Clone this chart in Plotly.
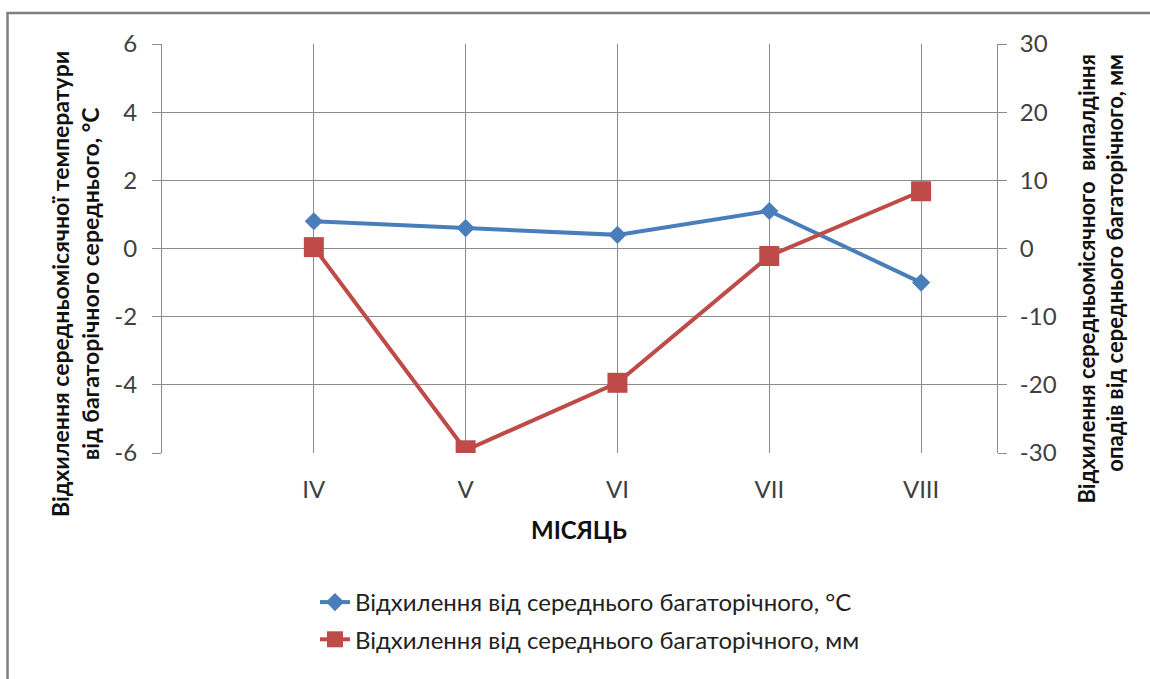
import plotly.graph_objects as go

# Months (April..August) and deviations from the long-term mean
months = ["IV", "V", "VI", "VII", "VIII"]
temp_dev = [0.8, 0.6, 0.4, 1.1, -1.0]          # °C
precip_dev = [0.2, -29.6, -19.7, -1.1, 8.4]    # mm

temp_ticks = [-6, -4, -2, 0, 2, 4, 6]
precip_ticks = [-30, -20, -10, 0, 10, 20, 30]

name_temp = "Відхилення від середнього багаторічного, °C"
name_precip = "Відхилення від середнього багаторічного, мм"
title_left = "Відхилення середньомісячної температури<br>від багаторічного середнього, °C"
title_right = "Відхилення середньомісячного  випалдіння<br>опадів від середнього багаторічного, мм"
title_x = "МІСЯЦЬ"

BLUE = "#4A7EBB"
RED = "#BE4B48"
GRID = "#8c8c8c"
FONT = "Lato, 'Open Sans', sans-serif"

xpos = list(range(len(months)))

fig = go.Figure()
fig.add_trace(go.Scatter(
    x=xpos, y=temp_dev, name=name_temp, mode="lines+markers", legendgroup="t",
    line=dict(color=BLUE, width=4),
    marker=dict(symbol="diamond", size=14, color=BLUE),
))
fig.add_trace(go.Scatter(
    x=xpos, y=precip_dev, name=name_precip, mode="lines+markers", yaxis="y2",
    legendgroup="p",
    line=dict(color=RED, width=4),
    marker=dict(symbol="square", size=20, color=RED),
))

W, H = 1150, 679
L, R, T, B = 162, 153, 44, 226
pw, ph = W - L - R, H - T - B


def px_x(px):
    return (px - L) / pw


def px_y(py):
    return (H - B - py) / ph


fig.update_layout(
    width=W, height=H,
    margin=dict(l=L, r=R, t=T, b=B),
    paper_bgcolor="white", plot_bgcolor="white",
    font=dict(family=FONT, size=24, color="#404040"),
    showlegend=True,
    legend=dict(
        x=px_x(315), y=px_y(580), xanchor="left", yanchor="top",
        font=dict(size=24, color="#222222"),
        bgcolor="rgba(0,0,0,0)", tracegroupgap=3, itemwidth=30,
    ),
    xaxis=dict(
        range=[-1, 4.5], tickvals=xpos, ticktext=months,
        showgrid=True, gridcolor=GRID, gridwidth=1,
        zeroline=False, showline=False, ticks="",
        ticklabelstandoff=20,
        tickfont=dict(size=24, color="#404040"),
    ),
    yaxis=dict(
        range=[-6, 6], tickvals=temp_ticks, ticktext=[str(v) for v in temp_ticks],
        showgrid=True, gridcolor=GRID, gridwidth=1, zeroline=False,
        showline=True, linecolor=GRID, linewidth=1,
        ticks="outside", ticklen=9, tickcolor=GRID,
        ticklabelstandoff=10,
    ),
    yaxis2=dict(
        range=[-30, 30], tickvals=precip_ticks, ticktext=[str(v) for v in precip_ticks],
        overlaying="y", side="right",
        showgrid=False, zeroline=False,
        showline=True, linecolor=GRID, linewidth=1,
        ticks="outside", ticklen=9, tickcolor=GRID,
        ticklabelstandoff=8,
    ),
    annotations=[
        dict(text=title_x, x=px_x(579), y=px_y(529), xref="paper", yref="paper",
             xanchor="center", yanchor="middle",
             showarrow=False, font=dict(size=24, color="#111111", weight="bold")),
        dict(text=title_left, x=px_x(75), y=px_y(284), xref="paper", yref="paper",
             xanchor="center", yanchor="middle",
             showarrow=False, textangle=-90, align="center",
             font=dict(size=23, color="#111111", weight="bold")),
        dict(text=title_right, x=px_x(1100), y=px_y(53), xref="paper", yref="paper",
             xanchor="center", yanchor="top", showarrow=False, textangle=-90,
             align="right",
             font=dict(size=22, color="#111111", weight="bold")),
    ],
    shapes=[
        dict(type="rect", xref="paper", yref="paper",
             x0=px_x(7.5), x1=px_x(1160), y0=px_y(13), y1=px_y(700),
             line=dict(color="#7f7f7f", width=2.5), fillcolor="rgba(0,0,0,0)",
             layer="below"),
    ],
)

fig.write_html("out.html")
